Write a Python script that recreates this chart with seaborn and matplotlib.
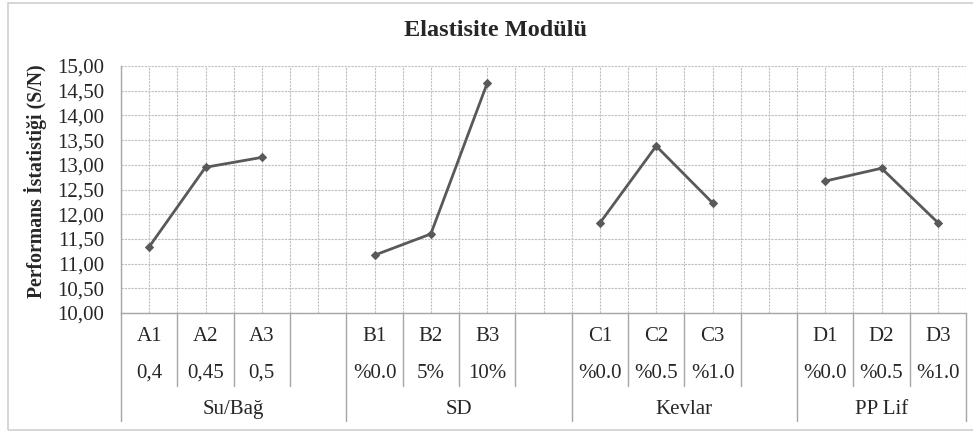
import numpy as np
import pandas as pd
import matplotlib
matplotlib.use("Agg")
import matplotlib.pyplot as plt
import seaborn as sns
from matplotlib.patches import Rectangle
from matplotlib.ticker import FuncFormatter, MultipleLocator
import matplotlib.transforms as mtransforms

# =====================
# DATA
# =====================
codes = ["A1", "A2", "A3", "", "B1", "B2", "B3", "", "C1", "C2", "C3", "", "D1", "D2", "D3"]
levels = ["0,4", "0,45", "0,5", "", "%0.0", "5%", "10%", "", "%0.0", "%0.5", "%1.0", "", "%0.0", "%0.5", "%1.0"]
groups = ["Su/Bağ", "SD", "Kevlar", "PP Lif"]
group_sizes = [4, 4, 4, 3]
sn_values = [11.34, 12.95, 13.15, None, 11.17, 11.60, 14.65, None,
             11.82, 13.38, 12.23, None, 12.67, 12.93, 11.83]

title = "Elastisite Modülü"
ylabel = "Performans İstatistiği (S/N)"

# =====================
# TABLE
# =====================
group_col = []
for g, n in zip(groups, group_sizes):
    group_col += [g] * n
df = pd.DataFrame({"pos": np.arange(len(codes)), "code": codes,
                   "group": group_col, "value": sn_values})
df = df.dropna(subset=["value"])

# =====================
# STYLE
# =====================
sns.set_style("white")
plt.rcParams["font.family"] = ["Liberation Serif", "DejaVu Serif"]

line_col = "#595959"
grid_col = "#bfbfbf"
axis_col = "#a6a6a6"
fs = 15

fig = plt.figure(figsize=(9.73, 4.32), dpi=100)
ax = fig.add_axes([121 / 973, (432 - 313) / 432, (966 - 121) / 973, (313 - 66) / 432])

for g in groups:
    sns.lineplot(data=df[df["group"] == g], x="pos", y="value", ax=ax,
                 color=line_col, linewidth=2, marker="D", markersize=4.5,
                 markeredgecolor=line_col, legend=False)

n = len(codes)
ax.set_xlim(-0.5, n - 0.5)
ax.set_ylim(10, 15)
ax.yaxis.set_major_locator(MultipleLocator(0.5))
ax.yaxis.set_major_formatter(FuncFormatter(lambda v, p: f"{v:.2f}".replace(".", ",")))
ax.set_xticks(np.arange(-0.5, n, 0.5))
ax.set_xticklabels([])
ax.tick_params(axis="x", length=0)
ax.tick_params(axis="y", length=0, pad=12, labelsize=fs)
ax.grid(True, axis="both", color=grid_col, linestyle=(0, (2, 1)), linewidth=0.8)
ax.set_axisbelow(True)
ax.set_xlabel("")
ax.set_ylabel(ylabel, fontsize=14.2, fontweight="bold")
ax.yaxis.set_label_coords(-0.087, 0.535)

for s in ["top", "right"]:
    ax.spines[s].set_visible(False)
for s in ["left", "bottom"]:
    ax.spines[s].set_color(axis_col)
    ax.spines[s].set_linewidth(1)

# =====================
# MULTI-LEVEL CATEGORY AXIS
# =====================
trans = mtransforms.blended_transform_factory(ax.transData, ax.transAxes)
row1_y, row2_y, row3_y = -0.097, -0.245, -0.39
short_bottom, long_bottom = -0.296, -0.437

for i, (c, lv) in enumerate(zip(codes, levels)):
    ax.text(i, row1_y, c, transform=trans, ha="center", va="center", fontsize=fs)
    ax.text(i, row2_y, lv, transform=trans, ha="center", va="center", fontsize=fs)

bounds = [-0.5]
for sz in group_sizes:
    bounds.append(bounds[-1] + sz)
for b in np.arange(-0.5, n, 1.0):
    bottom = long_bottom if b in bounds else short_bottom
    ax.plot([b, b], [0, bottom], transform=trans, color=axis_col, linewidth=1, clip_on=False)

for g, lo, hi in zip(groups, bounds[:-1], bounds[1:]):
    ax.text((lo + hi) / 2, row3_y, g, transform=trans, ha="center", va="center", fontsize=fs)

# =====================
# TITLE AND BORDER
# =====================
fig.text(496 / 973, 1 - 31 / 432, title, ha="center", va="center",
         fontsize=17.5, fontweight="bold")
fig.patches.append(Rectangle((8 / 973, 2 / 432), 1.0, 427 / 432, transform=fig.transFigure,
                             fill=False, edgecolor="#cfcfcf", linewidth=1.2))

fig.savefig("out.png", dpi=100)
plt.close(fig)
